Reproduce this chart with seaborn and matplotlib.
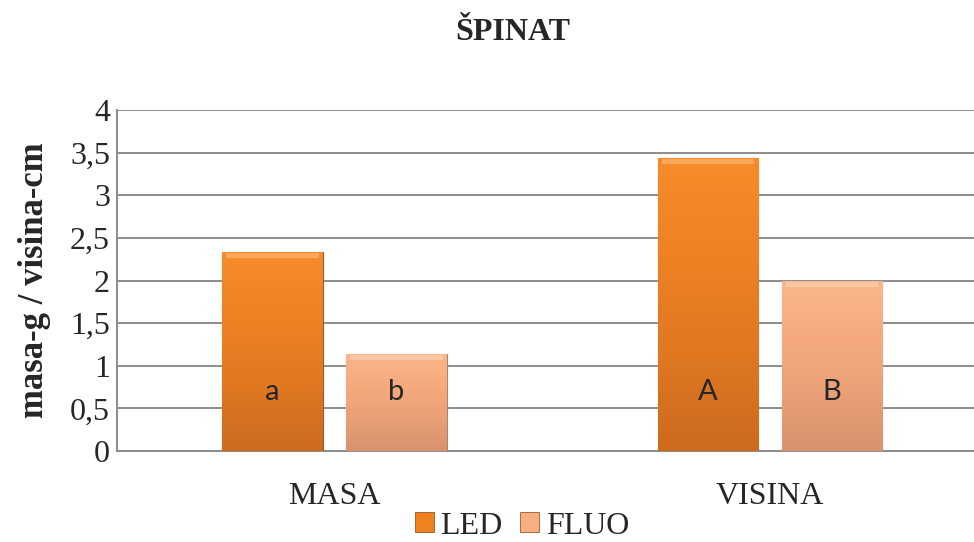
import numpy as np
import pandas as pd
import matplotlib
matplotlib.use('Agg')
import matplotlib.pyplot as plt
from matplotlib.colors import LinearSegmentedColormap
from matplotlib.patches import Rectangle
from matplotlib.ticker import FuncFormatter
import seaborn as sns

# podaci
kategorije = ['MASA', 'VISINA']
izvori = ['LED', 'FLUO']
led = [2.33, 3.44]
fluo = [1.14, 1.99]
oznake_led = ['a', 'A']
oznake_fluo = ['b', 'B']

boje = {'LED': '#F0821E', 'FLUO': '#F7AE80'}
gradijent = {'LED': ['#F68C2A', '#EE8224', '#E07822', '#CC6A1E'],
             'FLUO': ['#FAB68A', '#F6AA7E', '#EAA078', '#D8926E']}

df = pd.DataFrame({
    'kategorija': kategorije * 2,
    'izvor': ['LED'] * 2 + ['FLUO'] * 2,
    'vrijednost': led + fluo,
})

sns.set_style('white')
plt.rcParams['font.family'] = ['Liberation Serif', 'DejaVu Serif']

fig = plt.figure(figsize=(9.74, 5.42), dpi=100)
ax = fig.add_axes([117 / 974, 91 / 542, 1 - 117 / 974, 341 / 542])

sns.barplot(data=df, x='kategorija', y='vrijednost', hue='izvor',
            hue_order=izvori, palette=boje, width=0.57, gap=0.193,
            ax=ax, legend=False, zorder=3)

# gradijent + obrub na stupcima
for kontejner, izvor, oznake in zip(ax.containers, izvori, [oznake_led, oznake_fluo]):
    cmap = LinearSegmentedColormap.from_list(izvor, gradijent[izvor][::-1])
    for bar, oznaka in zip(kontejner, oznake):
        x, y = bar.get_x(), bar.get_y()
        w, h = bar.get_width(), bar.get_height()
        bar.set_edgecolor('#9A5A2A' if izvor == 'LED' else '#B98060')
        bar.set_linewidth(0.8)
        grad = np.linspace(0, 1, 256).reshape(-1, 1)
        im = ax.imshow(grad, cmap=cmap, aspect='auto', origin='lower',
                       extent=[x, x + w, y, y + h], zorder=3.5)
        im.set_clip_path(bar)
        # svijetli rub na vrhu
        ax.add_patch(Rectangle((x + w * 0.04, y + h - 0.07), w * 0.92, 0.06,
                               color='white', alpha=0.25, lw=0, zorder=3.6))
        ax.text(x + w / 2, 0.69, oznaka, ha='center', va='center',
                fontsize=21, family=['Lato', 'DejaVu Sans'], zorder=5)

ax.set_xlim(-0.5, 1.47)
ax.set_ylim(0, 4)
ax.set_yticks(np.arange(0, 4.01, 0.5))
ax.yaxis.set_major_formatter(FuncFormatter(lambda v, p: f'{v:g}'.replace('.', ',')))
ax.grid(axis='y', color='#8C8C8C', lw=1.4, zorder=0)
ax.set_axisbelow(True)

for s in ['top', 'right']:
    ax.spines[s].set_visible(False)
for s in ['left', 'bottom']:
    ax.spines[s].set_color('#8C8C8C')
    ax.spines[s].set_linewidth(1.4)

ax.tick_params(axis='y', labelsize=23, length=0, pad=5)
ax.tick_params(axis='x', labelsize=23, length=0, pad=22)
ax.set_xlabel('')
ax.set_ylabel('masa-g / visina-cm', fontsize=25, fontweight='bold', labelpad=14)

fig.text(513 / 974, 1 - 32 / 542, 'ŠPINAT', ha='center', va='center',
         fontsize=23, fontweight='bold')

# legenda
rucke = [Rectangle((0, 0), 1, 1, facecolor=boje[i], edgecolor='#9A5A2A', lw=0.6)
         for i in izvori]
fig.legend(rucke, izvori, loc='center', bbox_to_anchor=(522 / 974, 1 - 526 / 542),
           ncol=2, frameon=False, fontsize=23, handlelength=0.6, handleheight=0.6,
           handletextpad=0.2, columnspacing=0.55, borderpad=0)

fig.savefig('out.png', dpi=100)
